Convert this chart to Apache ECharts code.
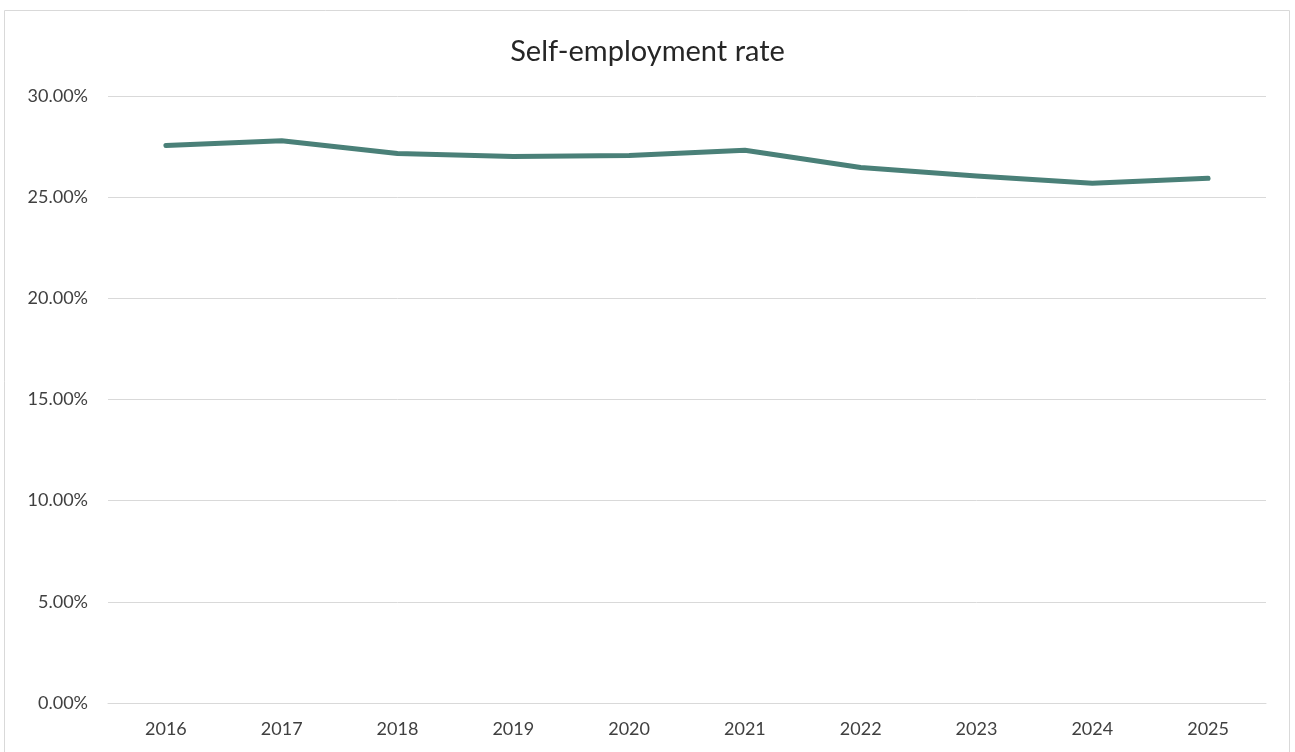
<!DOCTYPE html>
<html>
<head>
<meta charset="utf-8">
<script src="https://cdn.jsdelivr.net/npm/echarts@6/dist/echarts.min.js"></script>
<style>
  html, body { margin: 0; padding: 0; background: #fff; }
  #chart { width: 1295px; height: 752px; }
</style>
</head>
<body>
<div id="chart"></div>
<script>
// values (percent)
var years = ['2016', '2017', '2018', '2019', '2020', '2021', '2022', '2023', '2024', '2025'];
var rates = [27.55, 27.79, 27.16, 27.01, 27.06, 27.32, 26.47, 26.05, 25.69, 25.93];
var seriesName = 'Self-employment rate';

var myChart = echarts.init(document.getElementById('chart'));
var font = 'Lato, "Open Sans", sans-serif';

var option = {
  animation: false,
  graphic: [{
    type: 'rect',
    shape: { x: 4.5, y: 10.5, width: 1285, height: 760 },
    style: { fill: 'none', stroke: '#d9d9d9', lineWidth: 1 },
    silent: true
  }],
  title: {
    text: seriesName,
    left: 'center',
    top: 32,
    textStyle: { fontFamily: font, fontSize: 29, fontWeight: 'normal', color: '#262626' }
  },
  grid: { left: 108, right: 29, top: 96, bottom: 49 },
  xAxis: {
    type: 'category',
    data: years,
    boundaryGap: true,
    axisLine: { show: true, lineStyle: { color: '#d9d9d9' } },
    axisTick: { show: false },
    axisLabel: { color: '#404040', fontFamily: font, fontSize: 18, margin: 17 }
  },
  yAxis: {
    type: 'value',
    min: 0,
    max: 30,
    interval: 5,
    axisLine: { show: false },
    axisTick: { show: false },
    splitLine: { lineStyle: { color: '#d9d9d9', width: 1 } },
    axisLabel: {
      color: '#404040', fontFamily: font, fontSize: 18, margin: 20,
      formatter: function (v) { return v.toFixed(2) + '%'; }
    }
  },
  series: [{
    name: seriesName,
    type: 'line',
    data: rates,
    symbol: 'none',
    lineStyle: { color: '#4a8078', width: 5, cap: 'round', join: 'round' }
  }]
};

myChart.setOption(option);
</script>
</body>
</html>
